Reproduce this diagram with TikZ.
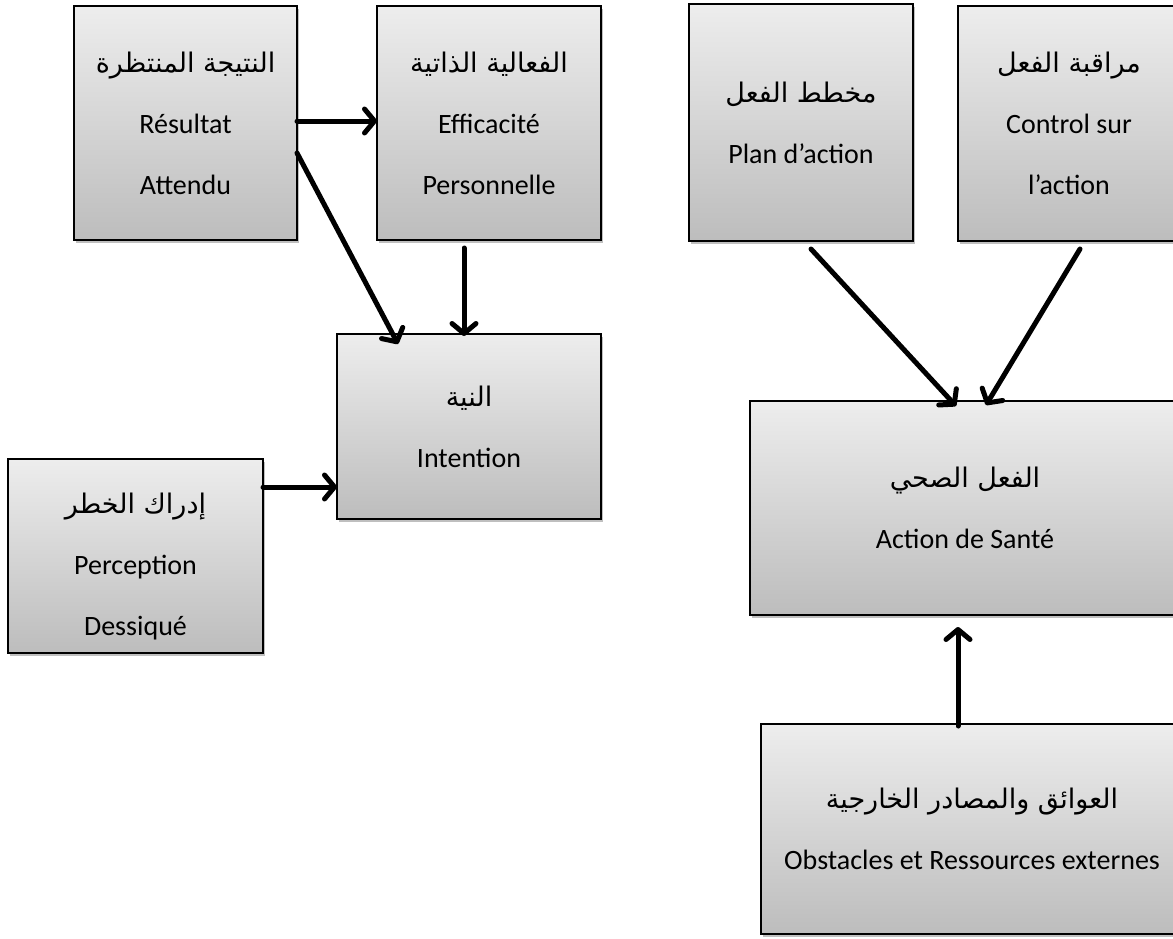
\documentclass[tikz,border=0pt]{standalone}
\usepackage{fontspec}
\setmainfont{Carlito}
\newfontfamily\arabicfont[Script=Arabic]{DejaVu Sans}
\TeXXeTstate=1
\usetikzlibrary{arrows.meta,shadows,calc}
\newcommand\artxt[1]{{\arabicfont\fontsize{27}{61}\selectfont\beginR #1\endR}}
\tikzset{
  box/.style={draw=black, line width=2pt, top color=gray!14, bottom color=gray!52,
    inner sep=0pt, outer sep=0pt, align=center,
    font=\fontsize{28}{61}\selectfont,
    drop shadow={shadow xshift=2pt, shadow yshift=-3pt, fill=black, opacity=0.25}},
  txt/.style={inner sep=0pt, align=center, font=\fontsize{28}{61}\selectfont},
  arr/.style={line width=5pt, line cap=round, line join=round,
    -{Straight Barb[length=10pt, width=24pt, line cap=round, line join=round]}}
}
\begin{document}
\begin{tikzpicture}[x=1pt, y=-1pt]
\fill[white] (0,0) rectangle (1173,938);
\clip (0,0) rectangle (1173,938);
\useasboundingbox (0,0) rectangle (1173,938);

\node[box, minimum width=223pt, minimum height=234pt] (b1) at (185.5,123)
  {\artxt{النتيجة المنتظرة}\\Résultat\\Attendu};
\node[box, minimum width=224pt, minimum height=234pt] (b2) at (489,123)
  {\artxt{الفعالية الذاتية}\\Efficacité\\Personnelle};
\node[box, minimum width=264pt, minimum height=185pt] (int) at (469,426.5)
  {\artxt{النية}\\Intention};
\node[box, minimum width=255pt, minimum height=194pt] (b4) at (135.5,556) {};
\node[txt] (b4t) at (135.5,566)
  {\artxt{إدراك الخطر}\\Perception\\Dessiqué};
\node[box, minimum width=224pt, minimum height=237pt] (b5) at (801,122.5)
  {\artxt{مخطط الفعل}\\Plan d’action};
\node[box, minimum width=222pt, minimum height=235pt] (b6) at (1069,123.5)
  {\artxt{مراقبة الفعل}\\Control sur\\l’action};
\node[box, minimum width=430pt, minimum height=214pt] (act) at (965,508)
  {\artxt{الفعل الصحي}\\Action de Santé};
\node[box, minimum width=422pt, minimum height=210pt] (b8) at (972,829)
  {\artxt{العوائق والمصادر الخارجية}\\Obstacles et Ressources externes};

\draw[arr] ([yshift=2pt]b1.east) coordinate (s1) -- (s1 -| b2.west);
\draw[arr] ([yshift=-30pt]b1.east) -- ([xshift=61pt,yshift=-10pt]int.north west);
\draw[arr] ([xshift=-25pt,yshift=-8pt]b2.south) coordinate (s3) -- ($(s3 |- int.north)+(0,2)$);
\draw[arr] ([yshift=69pt]b4.east) coordinate (s4) -- (s4 -| int.west);
\draw[arr] ([xshift=10pt,yshift=-8pt]b5.south) -- ([xshift=-9pt,yshift=-5pt]act.north);
\draw[arr] ([xshift=11pt,yshift=-8pt]b6.south) -- ([xshift=21pt,yshift=-4pt]act.north);
\draw[arr] ([xshift=-14pt,yshift=-2pt]b8.north) coordinate (s7) -- ($(s7 |- act.south)+(0,12)$);
\end{tikzpicture}
\end{document}
